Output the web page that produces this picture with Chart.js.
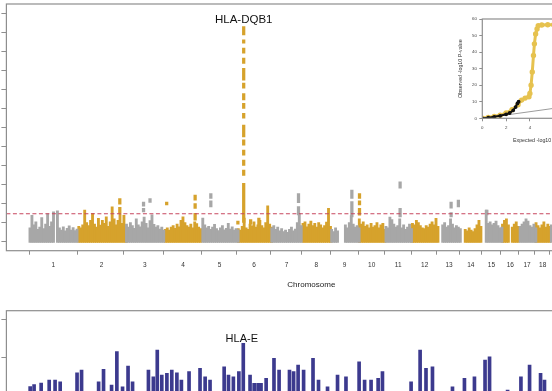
<!DOCTYPE html>
<html>
<head>
<meta charset="utf-8">
<title>Manhattan plot</title>
<script src="https://cdn.jsdelivr.net/npm/chart.js@4"></script>
<style>
    html, body { margin: 0; padding: 0; background: #fff; overflow: hidden; width: 552px; height: 391px; }
    .panel { position: absolute; }
    canvas { display: block; }
</style>
</head>
<body>
<div class="panel" style="left:0;top:0"><canvas id="top-chart" width="640" height="300"></canvas></div>
<div class="panel" style="left:0;top:300px"><canvas id="bottom-chart" width="640" height="307"></canvas></div>
<div class="panel" style="left:440px;top:0"><canvas id="qq-chart" width="200" height="160"></canvas></div>
<script>
const chromNames = ['1', '2', '3', '4', '5', '6', '7', '8', '9', '10', '11', '12', '13', '14', '15', '16', '17', '18', '19', '20', '21', '22'];
const chromLengths = [249, 243, 198, 191, 181, 171, 159, 146, 141, 136, 135, 134, 115, 107, 103, 90, 81, 78, 59, 63, 48, 51]; // Mb
const binMb = 10;

// top panel: highest -log10 P in each 10 Mb bin, per chromosome (null = no SNPs)
const topSkyline = [
    [3.6, 6.9, 4.4, 5.2, 3.2, 3.8, 6.3, 3.4, 4.6, 7.3, 4.0, 5.2, 7.8, null, 8.1, 3.6, 3.0, 3.9, 2.8, 3.5, 4.1, 3.0, 3.7, 2.9, 3.3],
    [4.0, 3.6, 4.4, 8.3, 5.0, 4.2, 5.6, 7.4, 4.6, 3.8, 6.1, 4.3, 5.6, 4.8, 6.5, 4.0, 5.2, 9.1, 6.0, 4.4, 5.6, 7.2, 4.8, 6.9, 3.9],
    [4.6, 3.8, 5.0, 4.2, 3.5, 6.0, 4.4, 3.9, 5.2, 6.4, 4.8, 3.6, 5.5, 7.0, 4.5, 3.8, 4.2, 3.3, 3.8, 3.0],
    [3.2, 3.6, 3.0, 3.8, 4.2, 3.5, 4.6, 3.9, 5.6, 6.5, 5.0, 4.2, 3.8, 4.6, 3.6, 5.2, 4.7, 3.8, 3.4],
    [6.2, 4.4, 3.6, 4.0, 3.2, 3.8, 4.5, 3.4, 2.9, 3.6, 4.2, 3.1, 3.5, 4.8, 3.3, 3.9, 3.0, 3.4, 3.1],
    [3.4, 3.0, 4.0, 6.2, 3.6, 3.2, 4.6, 4.1, 5.2, 3.8, 4.4, 5.6, 4.2, 3.6, 5.0, 9.4, 4.6, 3.8],
    [3.6, 4.2, 3.2, 3.8, 2.8, 3.4, 2.6, 3.0, 2.4, 3.2, 3.8, 2.8, 3.3, 5.0, 7.4, 4.2],
    [4.8, 5.2, 3.9, 4.6, 5.4, 4.2, 4.8, 3.8, 5.0, 4.4, 3.6, 4.2, 5.1, 8.7, 4.0],
    [3.2, 2.6, 3.6, 2.8, null, null, null, 4.4, 3.6, 5.0, 6.8, 4.6, 3.8, 4.2, 3.6],
    [6.0, 4.6, 5.2, 4.0, 4.4, 3.6, 4.8, 3.8, 4.2, 5.0, 3.6, 4.4, 4.8, 3.2],
    [4.0, 3.6, 6.4, 5.8, 4.6, 3.8, 4.2, 6.0, 3.6, 4.4, 3.2, 3.8, 4.6, 3.4],
    [4.8, 4.4, 5.6, 5.0, 4.2, 3.6, 3.4, 4.2, 3.8, 4.6, 5.2, 4.4, 6.1, 4.0],
    [null, null, 4.4, 5.0, 3.8, 4.2, 6.0, 4.6, 3.6, 4.2, 3.8, 3.4],
    [null, null, 3.2, 2.8, 3.6, 3.0, 2.6, 3.4, 4.4, 5.6, 4.0],
    [null, null, 8.3, 4.8, 5.2, 4.4, 4.8, 5.4, 4.2, 3.6, 3.8],
    [4.6, 5.6, 6.0, 4.4, null, 3.8, 4.6, 5.2, 4.0],
    [4.0, 4.6, 5.2, 6.0, 5.4, 4.2, 3.8, 4.6, 3.6],
    [5.0, 4.2, 3.6, 4.4, 5.2, 3.8, 4.6, 4.0],
    [4.4, 3.8, 4.6, 3.6, 4.2, 3.4],
    [3.8, 4.2, 3.4, 4.6, 3.6, 4.0, 3.2],
    [null, 3.6, 4.2, 3.4, 3.8],
    [null, 3.4, 4.0, 3.6, 4.4, 3.2]
];

// isolated runs of SNPs above the bulk: [chromosome, position Mb, low, high]
const spikes = [
    [2, 214, 7.4, 9.0], [2, 214, 9.8, 11.3],
    [3, 92, 7.8, 8.7], [3, 92, 9.3, 10.4], [3, 125, 10.3, 11.3],
    [4, 12, 9.6, 10.4], [4, 157, 5.6, 7.4], [4, 157, 8.7, 10.0], [4, 157, 10.9, 12.2],
    [5, 46, 9.1, 10.7], [5, 46, 11.3, 12.6],
    [6, 3, 4.6, 5.4], [6, 68, 4.6, 5.8], [6, 110, 4.4, 6.2],
    [6, 32.6, 5.0, 15.3], [6, 32.6, 17.4, 18.8], [6, 32.6, 20.0, 21.4], [6, 32.6, 22.7, 24.0],
    [6, 32.6, 25.3, 26.7], [6, 32.6, 27.5, 30.6], [6, 32.6, 32.4, 33.7], [6, 32.6, 35.0, 36.3],
    [6, 32.6, 37.2, 38.9], [6, 32.6, 40.3, 41.6], [6, 32.6, 42.4, 45.5], [6, 32.6, 46.8, 48.2],
    [6, 32.6, 49.5, 50.8], [6, 32.6, 52.1, 53.0], [6, 32.6, 54.3, 56.5],
    [7, 141, 7.0, 9.2], [7, 141, 10.2, 12.6],
    [9, 108, 6.5, 10.5], [9, 108, 11.3, 13.5],
    [10, 6, 6.9, 8.7], [10, 6, 9.6, 10.7], [10, 6, 11.3, 12.6],
    [11, 77, 6.5, 8.7], [11, 77, 14.0, 15.7],
    [13, 68, 6.5, 7.6], [13, 68, 8.8, 10.4], [13, 105, 9.1, 10.9],
    [15, 28, 7.0, 8.3]
];
const topYTicks = [0, 5, 10, 15, 20, 25, 30, 35, 40, 45, 50, 55, 60];
const threshold = 7.3;
const topGene = { label: 'HLA-DQB1', chrom: 6, pos: 32.6, peak: 56.5 };

// bottom panel: column tops, genome position in Mb
const bottomPos = [6, 26, 62, 103, 133, 159, 245, 268, 355, 380, 421, 448, 477, 505, 528,
    609, 634, 654, 677, 703, 728, 754, 777, 816, 872, 898, 923, 995, 1017, 1042, 1070, 1092.5,
    1127, 1148, 1168, 1183, 1209, 1249, 1275, 1328, 1349, 1372, 1400, 1448, 1476, 1522, 1573, 1616,
    1683, 1711, 1744, 1780, 1802, 1948, 1994, 2024, 2057, 2159, 2220, 2271, 2325, 2348, 2440, 2508,
    2552, 2608, 2628];
const bottomTop = [8.5, 8.6, 8.68, 8.84, 8.84, 8.75, 9.22, 9.37, 8.75, 9.4, 8.58, 10.33, 8.49, 9.58, 8.75,
    9.37, 9.01, 10.42, 9.1, 9.19, 9.37, 9.22, 8.84, 9.28, 9.45, 9.01, 8.84, 9.54, 9.1, 9.01, 9.28, 10.77,
    9.1, 8.67, 8.67, 8.67, 8.93, 9.98, 9.37, 9.37, 9.28, 9.63, 9.37, 9.98, 8.84, 8.49, 9.1, 9.01,
    9.8, 8.84, 8.84, 8.93, 9.28, 8.75, 10.42, 9.45, 9.54, 8.49, 8.93, 9.01, 9.89, 10.06, 8.32, 9.01,
    9.63, 9.19, 8.84];
const bottomYTicks = [0, 2, 4, 6, 8, 10, 12];
const bottomGene = { label: 'HLA-E', x: 1092.5, peak: 10.77 };

// QQ inset
const qqExpGold = [0, 0.5, 1, 1.5, 2, 2.5, 3, 3.3, 3.6, 3.92, 4.0, 4.1, 4.2, 4.3, 4.38, 4.48, 4.6, 4.7, 5.0, 5.5, 6.0, 7.0];
const qqObsGold = [0, 0.5, 1.1, 1.8, 3.2, 5.2, 8.2, 11, 12.2, 13, 15, 20, 28, 38, 45, 51, 54, 56, 56.4, 56.5, 56.5, 56.5];
const qqExpBlack = [0, 0.5, 1, 1.5, 2, 2.3, 2.6, 2.8, 2.95, 3.05];
const qqObsBlack = [0, 0.4, 0.9, 1.5, 2.4, 3.2, 4.8, 6.8, 9.0, 10.0];
const qqXTicks = [0, 2, 4, 6, 8, 10];
const qqYTicks = [0, 10, 20, 30, 40, 50, 60];

const GREY = '#a7a7a7';
const GOLD = '#d6a22c';
const PURPLE = '#3c3a8e';
const AXIS = '#8e8e8e';
const FONT = '"Liberation Sans", Arial, Helvetica, sans-serif';

const chromStart = [];
let genomeEnd = 0;
chromLengths.forEach(len => { chromStart.push(genomeEnd); genomeEnd += len; });
const chromCenters = chromLengths.map((len, i) => chromStart[i] + len / 2);
const xMin = -0.04 * genomeEnd;
const xMax = genomeEnd * 1.04;

const panelBox = {
    id: 'panelBox',
    afterDraw(chart) {
        const { ctx, chartArea: a } = chart;
        ctx.save();
        ctx.strokeStyle = AXIS;
        ctx.lineWidth = 1.2;
        ctx.strokeRect(a.left, a.top, a.right - a.left, a.bottom - a.top);
        ctx.restore();
    }
};

const geneLabel = {
    id: 'geneLabel',
    afterDatasetsDraw(chart, args, opts) {
        if (!opts.text) return;
        const { ctx, scales: { x, y } } = chart;
        ctx.save();
        ctx.font = opts.size + 'px ' + FONT;
        ctx.fillStyle = '#111';
        ctx.textAlign = 'center';
        ctx.textBaseline = 'alphabetic';
        ctx.fillText(opts.text, x.getPixelForValue(opts.x) + (opts.shift || 0), y.getPixelForValue(opts.y) - opts.gap);
        ctx.restore();
    }
};

function skylineBars(parity) {
    const bars = [];
    topSkyline.forEach((bins, c) => {
        if (c % 2 !== parity) return;
        bins.forEach((h, i) => {
            if (h === null) return;
            bars.push({ x: chromStart[c] + i * binMb + binMb / 2, y: [-0.25, h] });
        });
    });
    return bars;
}

function spikeBars(parity) {
    return spikes
        .filter(s => (s[0] - 1) % 2 === parity)
        .map(s => ({ x: chromStart[s[0] - 1] + s[1], y: [s[2], s[3]] }));
}

function setTicks(values) {
    return scale => { scale.ticks = values.map(v => ({ value: v })); };
}

function manhattanScales(yMin, yMax, yTicks) {
    return {
        x: {
            type: 'linear', min: xMin, max: xMax, offset: false,
            afterBuildTicks: setTicks(chromCenters),
            afterFit: s => { s.height = 49.3; },
            grid: { drawOnChartArea: false, tickLength: 4, color: AXIS },
            border: { display: false },
            ticks: {
                autoSkip: false, maxRotation: 0, padding: 6.4, color: '#333',
                font: { family: FONT, size: 6.5 },
                callback: (v, i) => chromNames[i]
            },
            title: { display: true, text: 'Chromosome', color: '#222', font: { family: FONT, size: 8 }, padding: { top: 0, bottom: 10.7 } }
        },
        y: {
            min: yMin, max: yMax,
            afterBuildTicks: setTicks(yTicks),
            afterFit: s => { s.width = 5; },
            grid: { drawOnChartArea: false, tickLength: 5, color: AXIS },
            border: { display: false },
            ticks: { display: false }
        }
    };
}

function drawTopChart() {
    const barOpts = { grouped: false, borderWidth: 0 };
    new Chart(document.getElementById('top-chart'), {
        type: 'bar',
        data: {
            datasets: [
                { type: 'line', data: [{ x: xMin, y: threshold }, { x: xMax, y: threshold }],
                  borderColor: '#c8475f', borderWidth: 1.2, borderDash: [4, 2.5], pointRadius: 0 },
                { ...barOpts, data: spikeBars(0), backgroundColor: GREY, barThickness: 2.6 },
                { ...barOpts, data: spikeBars(1), backgroundColor: GOLD, barThickness: 2.6 },
                { ...barOpts, data: skylineBars(0), backgroundColor: GREY, barThickness: 2.2 },
                { ...barOpts, data: skylineBars(1), backgroundColor: GOLD, barThickness: 2.2 }
            ]
        },
        options: {
            responsive: false,
            animation: false,
            layout: { padding: { left: 1.4, top: 4, right: 23.7, bottom: 0 } },
            plugins: {
                legend: { display: false },
                tooltip: { enabled: false },
                geneLabel: { text: topGene.label, x: chromStart[topGene.chrom - 1] + topGene.pos, y: topGene.peak, gap: 3.2, size: 11.5 }
            },
            scales: manhattanScales(-2.4, 62.4, topYTicks)
        },
        plugins: [panelBox, geneLabel]
    });
}

function drawBottomChart() {
    const bars = bottomPos.map((p, i) => ({ x: p, y: [-0.2, bottomTop[i]] }));
    new Chart(document.getElementById('bottom-chart'), {
        type: 'bar',
        data: {
            datasets: [{ data: bars, backgroundColor: PURPLE, barThickness: 3, grouped: false, borderWidth: 0 }]
        },
        options: {
            responsive: false,
            animation: false,
            layout: { padding: { left: 1.4, top: 10.7, right: 23.7, bottom: 0 } },
            plugins: {
                legend: { display: false },
                tooltip: { enabled: false },
                geneLabel: { text: bottomGene.label, x: bottomGene.x, y: bottomGene.peak, gap: 1.6, size: 11, shift: -1.5 }
            },
            scales: manhattanScales(-0.48, 12.48, bottomYTicks)
        },
        plugins: [panelBox, geneLabel]
    });
}

function drawQQChart() {
    const toPoints = (xs, ys) => xs.map((x, i) => ({ x: x, y: ys[i] }));
    const tickFont = { family: FONT, size: 4.4 };
    const titleFont = { family: FONT, size: 5.3 };
    new Chart(document.getElementById('qq-chart'), {
        type: 'line',
        data: {
            datasets: [
                { data: toPoints(qqExpBlack, qqObsBlack), borderColor: '#111', backgroundColor: '#111',
                  borderWidth: 2, pointRadius: 0.9 },
                { data: toPoints(qqExpGold, qqObsGold), borderColor: '#e6c24f', backgroundColor: '#e6c24f',
                  borderWidth: 3, pointRadius: 1.2 },
                { data: [{ x: 0, y: 0 }, { x: 10, y: 10 }], borderColor: '#9c9c9c', borderWidth: 1, pointRadius: 0 }
            ]
        },
        options: {
            responsive: false,
            animation: false,
            layout: { padding: { left: 0, top: 19, right: 38.7, bottom: 0 } },
            plugins: { legend: { display: false }, tooltip: { enabled: false } },
            scales: {
                x: {
                    type: 'linear', min: 0, max: 10,
                    afterBuildTicks: setTicks(qqXTicks),
                    afterFit: s => { s.height = 41.7; },
                    grid: { drawOnChartArea: false, tickLength: 3, color: AXIS },
                    border: { display: false },
                    ticks: { padding: 3.6, color: '#444', font: tickFont, maxRotation: 0 },
                    title: { display: true, text: 'Expected -log10 P-value', color: '#333', font: titleFont, padding: { top: 0, bottom: 16.1 } }
                },
                y: {
                    min: 0, max: 60,
                    afterBuildTicks: setTicks(qqYTicks),
                    afterFit: s => { s.width = 42.3; },
                    grid: { drawOnChartArea: false, tickLength: 3, color: AXIS },
                    border: { display: false },
                    ticks: { padding: 2.3, color: '#444', font: tickFont },
                    title: { display: true, text: 'Observed -log10 P-value', color: '#333', font: titleFont, padding: { top: 17.8, bottom: 0 } }
                }
            }
        },
        plugins: [panelBox]
    });
}

window.onload = function () {
    drawTopChart();
    drawBottomChart();
    drawQQChart();
};
</script>
</body>
</html>
